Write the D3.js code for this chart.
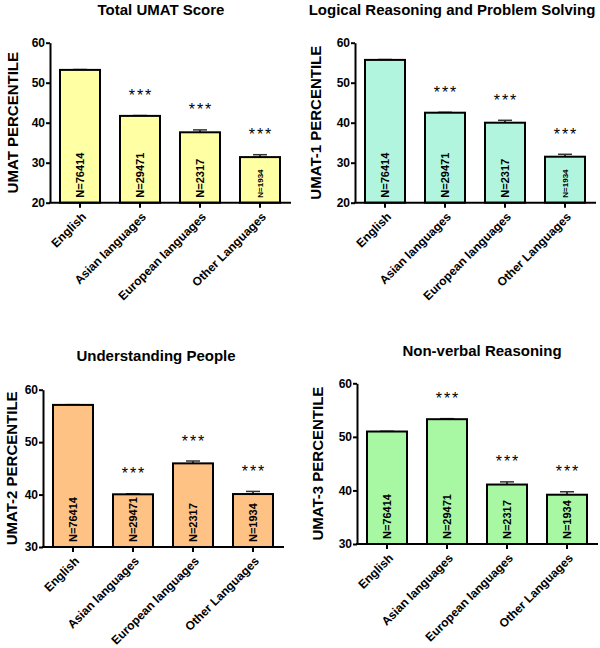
<!DOCTYPE html>
<html>
<head>
<meta charset="utf-8">
<script src="https://cdn.jsdelivr.net/npm/d3@7"></script>
<style>
  body { margin: 0; background: #fff; }
  svg { font-family: Arial, "Liberation Sans", Helvetica, sans-serif; }
</style>
</head>
<body>
<svg id="chart" width="600" height="648"></svg>
<script>
// --- Data
const categories = ["English", "Asian languages", "European languages", "Other Languages"];
const sampleSizes = ["N=76414", "N=29471", "N=2317", "N=1934"];
const significance = ["", "***", "***", "***"];

const totalScore   = [53.2, 41.7, 37.6, 31.4];
const totalErr     = [0.1, 0.1, 0.6, 0.6];
const logicalScore = [55.7, 42.5, 40.0, 31.5];
const logicalErr   = [0.1, 0.1, 0.6, 0.6];
const peopleScore  = [57.1, 40.05, 45.95, 40.1];
const peopleErr    = [0.05, 0.1, 0.45, 0.5];
const nonverbScore = [51.0, 53.3, 41.1, 39.2];
const nonverbErr   = [0.05, 0.1, 0.5, 0.55];

const panels = [
  { title: "Total UMAT Score", ylabel: "UMAT PERCENTILE", values: totalScore, errors: totalErr,
    domain: [20, 60], ticks: [20, 30, 40, 50, 60], fill: "#ffffa3",
    axisX: 50, top: 42.7, bottom: 202.7, titleX: 161, titleY: 15, labelX: 12, smallLast: true },
  { title: "Logical Reasoning and Problem Solving", ylabel: "UMAT-1 PERCENTILE", values: logicalScore, errors: logicalErr,
    domain: [20, 60], ticks: [20, 30, 40, 50, 60], fill: "#b2f5de",
    axisX: 355, top: 42.7, bottom: 202.7, titleX: 452, titleY: 15, labelX: 315, smallLast: true },
  { title: "Understanding People", ylabel: "UMAT-2 PERCENTILE", values: peopleScore, errors: peopleErr,
    domain: [30, 60], ticks: [30, 40, 50, 60], fill: "#ffc285",
    axisX: 43, top: 389.7, bottom: 547, titleX: 156, titleY: 361, labelX: 11, smallLast: false },
  { title: "Non-verbal Reasoning", ylabel: "UMAT-3 PERCENTILE", values: nonverbScore, errors: nonverbErr,
    domain: [30, 60], ticks: [30, 40, 50, 60], fill: "#a8f7a2",
    axisX: 357, top: 383.3, bottom: 544, titleX: 482, titleY: 356, labelX: 317, smallLast: false }
];

const svg = d3.select("#chart");

panels.forEach(p => {
  const g = svg.append("g");

  const x = d3.scaleBand()
    .domain(categories)
    .range([p.axisX, p.axisX + 240])
    .paddingInner(1 / 3)
    .paddingOuter(1 / 6);

  const y = d3.scaleLinear()
    .domain(p.domain)
    .range([p.bottom, p.top]);

  const rows = categories.map((c, i) => ({
    cat: c, v: p.values[i], e: p.errors[i], n: sampleSizes[i], sig: significance[i], i
  }));

  // --- Title
  g.append("text")
    .attr("x", p.titleX)
    .attr("y", p.titleY)
    .attr("text-anchor", "middle")
    .style("font-size", "15px")
    .style("font-weight", "bold")
    .text(p.title);

  // --- Y label
  g.append("text")
    .attr("transform", `translate(${p.labelX},${(p.top + p.bottom) / 2}) rotate(-90)`)
    .attr("text-anchor", "middle")
    .attr("dominant-baseline", "central")
    .style("font-size", "15px")
    .style("font-weight", "bold")
    .text(p.ylabel);

  // --- Error bars (drawn under the bars)
  const err = g.selectAll(".err")
    .data(rows)
    .enter()
    .append("g");

  err.append("line")
    .attr("x1", d => x(d.cat) + x.bandwidth() / 2)
    .attr("x2", d => x(d.cat) + x.bandwidth() / 2)
    .attr("y1", d => y(d.v))
    .attr("y2", d => y(d.v + d.e))
    .attr("stroke", "#000")
    .attr("stroke-width", 1.5);

  err.append("line")
    .attr("x1", d => x(d.cat) + x.bandwidth() / 2 - 7)
    .attr("x2", d => x(d.cat) + x.bandwidth() / 2 + 7)
    .attr("y1", d => y(d.v + d.e))
    .attr("y2", d => y(d.v + d.e))
    .attr("stroke", "#333")
    .attr("stroke-width", 1.5);

  // --- Bars
  g.selectAll(".bar")
    .data(rows)
    .enter()
    .append("rect")
    .attr("x", d => x(d.cat))
    .attr("y", d => y(d.v))
    .attr("width", x.bandwidth())
    .attr("height", d => y(p.domain[0]) - y(d.v))
    .attr("fill", p.fill)
    .attr("stroke", "#000")
    .attr("stroke-width", 2);

  // --- N labels inside the bars
  g.selectAll(".nlab")
    .data(rows)
    .enter()
    .append("text")
    .attr("transform", d => `translate(${x(d.cat) + x.bandwidth() / 2},${p.bottom - 5}) rotate(-90)`)
    .attr("dominant-baseline", "central")
    .style("font-size", d => (p.smallLast && d.i === 3) ? "8px" : "11px")
    .style("font-weight", "bold")
    .text(d => d.n);

  // --- Significance stars
  g.selectAll(".sig")
    .data(rows.filter(d => d.sig))
    .enter()
    .append("text")
    .attr("x", d => x(d.cat) + x.bandwidth() / 2 + 1)
    .attr("y", d => y(d.v + d.e) - 20)
    .attr("text-anchor", "middle")
    .attr("dominant-baseline", "central")
    .style("font-size", "16px")
    .style("letter-spacing", "2px")
    .text(d => d.sig);

  // --- Axes
  const yAxis = g.append("g")
    .attr("transform", `translate(${p.axisX},0)`)
    .call(d3.axisLeft(y).tickValues(p.ticks).tickSize(4).tickPadding(1).tickSizeOuter(0));
  yAxis.select(".domain").attr("stroke-width", 2);
  yAxis.selectAll(".tick line").attr("stroke-width", 2);
  yAxis.selectAll(".tick text")
    .style("font-size", "12px")
    .style("font-weight", "bold")
    .attr("fill", "#000");

  const xAxis = g.append("g")
    .attr("transform", `translate(0,${p.bottom})`)
    .call(d3.axisBottom(x).tickSize(5).tickSizeOuter(0));
  xAxis.select(".domain")
    .attr("d", `M${p.axisX - 1},0H${p.axisX + 241}`)
    .attr("stroke-width", 2);
  xAxis.selectAll(".tick line").attr("stroke-width", 2);
  xAxis.selectAll(".tick text")
    .attr("text-anchor", "end")
    .attr("dy", null)
    .attr("transform", "translate(4,12) rotate(-45)")
    .attr("y", 0)
    .attr("x", 0)
    .attr("dominant-baseline", "central")
    .style("font-size", "12px")
    .style("font-weight", "bold")
    .attr("fill", "#000");
});
</script>
</body>
</html>
